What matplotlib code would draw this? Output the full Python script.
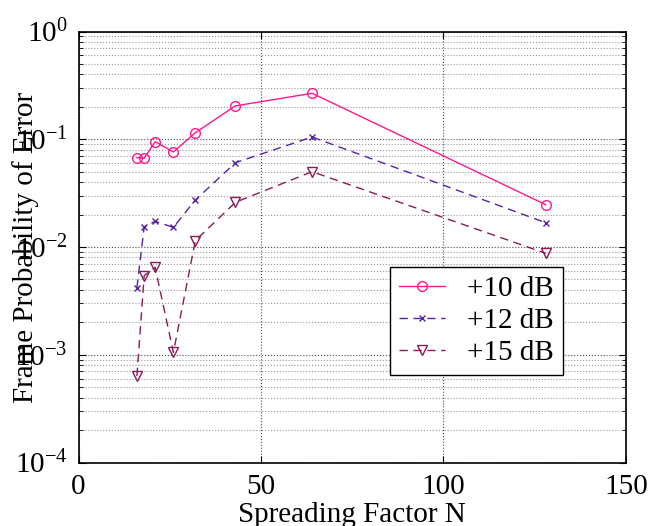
import numpy as np
import matplotlib
matplotlib.use("Agg")
import matplotlib.pyplot as plt
from matplotlib.ticker import LogLocator, NullFormatter, FixedLocator

plt.rcParams['font.family'] = ['Liberation Serif', 'DejaVu Serif']
plt.rcParams['mathtext.fontset'] = 'custom'
plt.rcParams['mathtext.rm'] = 'Liberation Serif'
plt.rcParams['mathtext.it'] = 'Liberation Serif:italic'

# spreading factor N
spread = [16, 18, 21, 26, 32, 43, 64, 128]

# frame error probability for each SNR margin
fer_10db = [0.0674, 0.0666, 0.0949, 0.0762, 0.115, 0.204, 0.267, 0.0247]
fer_12db = [0.00419, 0.0154, 0.0173, 0.0152, 0.0273, 0.0606, 0.105, 0.0168]
fer_15db = [0.000635, 0.00542, 0.00648, 0.00105, 0.01145, 0.026, 0.050, 0.00874]

labels = ['+10 dB', '+12 dB', '+15 dB']
xticks = [0, 50, 100, 150]

fs = 21

fig = plt.figure(figsize=(6.51, 5.26), dpi=100)
ax = fig.add_axes([78.5 / 651, 1 - 462.5 / 526, 547.5 / 651, 431 / 526])

ax.semilogy(spread, fer_10db, '-', color='#ff1a8c', lw=1.0,
            marker='o', ms=7, mfc='none', mew=1.0, label=labels[0])
ax.semilogy(spread, fer_12db, '--', color='#5522aa', lw=1.0, dashes=(6, 4),
            marker='x', ms=5, mew=1.0, label=labels[1])
ax.semilogy(spread, fer_15db, '--', color='#8b1a58', lw=1.0, dashes=(6, 4),
            marker='v', ms=7, mfc='none', mew=1.0, label=labels[2])

ax.set_xlim(0, 150)
ax.set_ylim(1e-4, 1e0)
ax.xaxis.set_major_locator(FixedLocator(xticks))
ax.yaxis.set_major_locator(LogLocator(base=10, numticks=10))
ax.yaxis.set_minor_locator(LogLocator(base=10, subs=np.arange(2, 10), numticks=10))
ax.yaxis.set_minor_formatter(NullFormatter())

ax.tick_params(which='both', direction='in', top=True, right=True, labelsize=fs)
ax.tick_params(which='major', length=5, width=0.8, pad=8)
ax.tick_params(which='minor', length=3, width=0.6)

ax.grid(True, which='major', axis='both', linestyle=':', color='0.3', lw=0.8)
ax.grid(True, which='minor', axis='y', linestyle=':', color='0.6', lw=0.8)

for s in ax.spines.values():
    s.set_linewidth(1.2)

ax.set_xlabel('Spreading Factor N', fontsize=fs, va='baseline')
ax.xaxis.set_label_coords(0.5, (462.5 - 522) / 431)
ax.set_ylabel('Frame Probability of Error', fontsize=fs, va='center')
ax.yaxis.set_label_coords(-0.096, 0.5)

leg = ax.legend(loc='lower left', bbox_to_anchor=(0.569, 0.204), fontsize=fs,
                frameon=True, fancybox=False, edgecolor='black', framealpha=1,
                handlelength=1.6, handletextpad=0.75, borderpad=0.3,
                labelspacing=0.18, borderaxespad=0)
leg.get_frame().set_linewidth(1.0)

fig.savefig('out.png', dpi=100)
